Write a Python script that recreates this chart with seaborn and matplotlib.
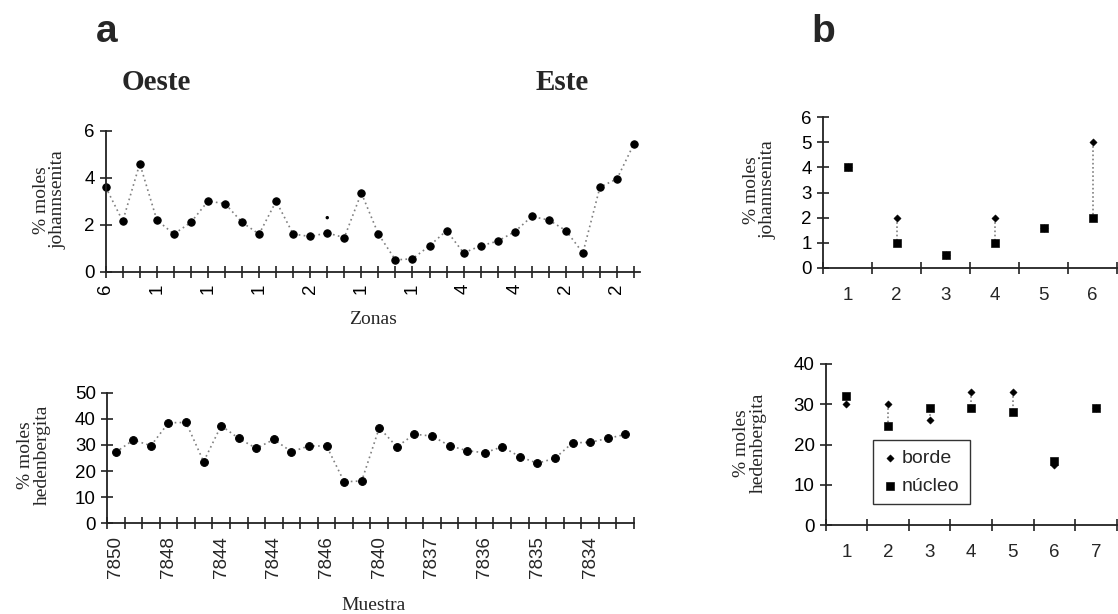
import matplotlib
matplotlib.use("Agg")
import matplotlib.pyplot as plt
import seaborn as sns
import pandas as pd
import numpy as np

# ---------------- data ----------------
# panel a, top: % moles johannsenita along the traverse (Oeste -> Este)
johannsenita_a = [3.6, 2.15, 4.6, 2.2, 1.6, 2.1, 3.0, 2.9, 2.1, 1.6,
                  3.0, 1.6, 1.5, 1.65, 1.45, 3.35, 1.6, 0.5, 0.55, 1.1,
                  1.75, 0.8, 1.1, 1.3, 1.7, 2.35, 2.2, 1.75, 0.8, 3.6,
                  3.95, 5.45]
zonas_labels = ["6", "1", "1", "1", "2", "1", "1", "4", "4", "2", "2"]
extra_index = [13]
extra_value = [2.3]

# panel a, bottom: % moles hedenbergita per sample
hedenbergita_a = [27.2, 31.9, 29.7, 38.5, 38.6, 23.6, 37.4, 32.5, 28.7, 32.1,
                  27.4, 29.6, 29.6, 15.9, 16.2, 36.6, 29.3, 34.1, 33.4, 29.7,
                  27.8, 27.0, 29.3, 25.5, 23.0, 24.9, 30.8, 31.0, 32.5, 34.0]
muestra_labels = ["7850", "7848", "7844", "7844", "7846", "7840",
                  "7837", "7836", "7835", "7834"]

# panel b, top: johannsenita borde / núcleo
b_top_cats = [1, 2, 3, 4, 5, 6]
b_top_borde = [4.0, 2.0, 0.5, 2.0, 1.6, 5.0]
b_top_nucleo = [4.0, 1.0, 0.5, 1.0, 1.6, 2.0]

# panel b, bottom: hedenbergita borde / núcleo
b_bot_cats = [1, 2, 3, 4, 5, 6, 7]
b_bot_borde = [30.0, 30.0, 26.0, 33.0, 33.0, 15.0, 29.0]
b_bot_nucleo = [32.0, 24.5, 29.0, 29.0, 28.0, 16.0, 29.0]

# ---------------- style ----------------
sns.set_theme(style="ticks")
plt.rcParams["font.family"] = ["Liberation Sans", "DejaVu Sans"]
SERIF = ["Liberation Serif", "DejaVu Serif"]
SPINE = "#222222"
DOT = "#808080"
TICKFS = 13.5

W, H = 1118, 614
fig = plt.figure(figsize=(W / 100, H / 100), dpi=100)


def px_axes(left, right, top, bottom):
    return fig.add_axes([left / W, 1 - bottom / H, (right - left) / W, (bottom - top) / H])


def style_axes(ax):
    sns.despine(ax=ax)
    for s in ("left", "bottom"):
        ax.spines[s].set_color(SPINE)
        ax.spines[s].set_linewidth(1.3)
    ax.tick_params(axis="both", which="major", direction="inout", length=9,
                   width=1.2, color=SPINE, labelsize=TICKFS, labelcolor="black")
    ax.set_facecolor("white")


# ---- panel a top ----
ax1 = px_axes(105.7, 640, 130.7, 271.7)
df1 = pd.DataFrame({"i": np.arange(len(johannsenita_a)), "v": johannsenita_a})
sns.lineplot(data=df1, x="i", y="v", ax=ax1, color=DOT, linestyle=(0, (1, 2)),
             linewidth=1.2, marker="o", markersize=5.3, markerfacecolor="black",
             markeredgecolor="black", clip_on=False)
sns.scatterplot(x=extra_index, y=extra_value, ax=ax1, color="black", s=6,
                edgecolor="none", clip_on=False)
ax1.set_xlim(0, 31.35)
ax1.set_ylim(0, 6)
ax1.set_yticks([0, 2, 4, 6])
ax1.set_xticks(range(len(johannsenita_a)))
lab = [""] * len(johannsenita_a)
for k, t in enumerate(zonas_labels):
    lab[3 * k] = t
ax1.set_xticklabels(lab, rotation=90, va="top")
ax1.set_xlabel("")
ax1.set_ylabel("")
style_axes(ax1)
ax1.tick_params(axis="x", pad=4)

# ---- panel a bottom ----
ax2 = px_axes(107, 634, 392.7, 523.3)
df2 = pd.DataFrame({"i": np.arange(len(hedenbergita_a)), "v": hedenbergita_a})
sns.lineplot(data=df2, x="i", y="v", ax=ax2, color=DOT, linestyle=(0, (1, 2)),
             linewidth=1.2, marker="o", markersize=5.6, markerfacecolor="black",
             markeredgecolor="black", clip_on=False)
ax2.set_xlim(-0.5, len(hedenbergita_a) - 0.5)
ax2.set_ylim(0, 50)
ax2.set_yticks([0, 10, 20, 30, 40, 50])
ax2.set_xticks(np.arange(-0.5, len(hedenbergita_a), 1.0))
ax2.set_xticklabels([])
ax2.set_xticks([3 * k for k in range(len(muestra_labels))], minor=True)
ax2.set_xticklabels(muestra_labels, minor=True, rotation=90, fontsize=TICKFS)
ax2.tick_params(axis="x", which="minor", length=0, pad=9)
ax2.set_xlabel("")
ax2.set_ylabel("")
style_axes(ax2)

# ---- panel b top ----
ax3 = px_axes(823, 1117, 117.3, 267.7)
for c, b, n in zip(b_top_cats, b_top_borde, b_top_nucleo):
    ax3.plot([c, c], [b, n], color=DOT, linestyle=(0, (1, 1.5)), linewidth=1.2)
sns.scatterplot(x=b_top_cats, y=b_top_nucleo, ax=ax3, marker="s", s=30,
                color="black", edgecolor="black", clip_on=False, zorder=3)
sns.scatterplot(x=b_top_cats, y=b_top_borde, ax=ax3, marker="D", s=14,
                color="black", edgecolor="black", clip_on=False, zorder=3)
ax3.set_xlim(0.5, 6.5)
ax3.set_ylim(0, 6)
ax3.set_yticks(range(0, 7))
ax3.set_xticks(np.arange(0.5, 6.6, 1.0))
ax3.set_xticklabels([])
ax3.set_xticks(b_top_cats, minor=True)
ax3.set_xticklabels([str(c) for c in b_top_cats], minor=True, fontsize=TICKFS)
ax3.tick_params(axis="x", which="minor", length=0, pad=14)
style_axes(ax3)

# ---- panel b bottom ----
ax4 = px_axes(825.7, 1116.7, 364, 525)
for c, b, n in zip(b_bot_cats, b_bot_borde, b_bot_nucleo):
    ax4.plot([c, c], [b, n], color=DOT, linestyle=(0, (1, 1.5)), linewidth=1.2)
sns.scatterplot(x=b_bot_cats, y=b_bot_borde, ax=ax4, marker="D", s=14,
                color="black", edgecolor="black", clip_on=False, zorder=3,
                label="borde")
sns.scatterplot(x=b_bot_cats, y=b_bot_nucleo, ax=ax4, marker="s", s=30,
                color="black", edgecolor="black", clip_on=False, zorder=3,
                label="núcleo")
ax4.set_xlim(0.5, 7.5)
ax4.set_ylim(0, 40)
ax4.set_yticks([0, 10, 20, 30, 40])
ax4.set_xticks(np.arange(0.5, 7.6, 1.0))
ax4.set_xticklabels([])
ax4.set_xticks(b_bot_cats, minor=True)
ax4.set_xticklabels([str(c) for c in b_bot_cats], minor=True, fontsize=TICKFS)
ax4.tick_params(axis="x", which="minor", length=0, pad=14)
style_axes(ax4)
leg = ax4.legend(loc="upper left", bbox_to_anchor=(0.1625, 0.528), borderaxespad=0,
                 frameon=True, fancybox=False, fontsize=14, handletextpad=0.2,
                 handlelength=0.8, borderpad=0.5, labelspacing=0.5)
leg.get_frame().set_edgecolor("black")
leg.get_frame().set_linewidth(1.0)

# ---------------- texts ----------------
fig.text(107 / W, 1 - 32 / H, "a", fontsize=28, fontweight="bold", ha="center", va="center")
fig.text(823 / W, 1 - 32 / H, "b", fontsize=28, fontweight="bold", ha="center", va="center")
fig.text(156 / W, 1 - 82 / H, "Oeste", family=SERIF, fontsize=21, fontweight="bold",
         ha="center", va="center")
fig.text(562 / W, 1 - 82 / H, "Este", family=SERIF, fontsize=21, fontweight="bold",
         ha="center", va="center")
fig.text(50 / W, 1 - 200 / H, "% moles\njohannsenita", family=SERIF, fontsize=14,
         rotation=90, ha="center", va="center", multialignment="center", linespacing=0.95)
fig.text(34 / W, 1 - 455 / H, "% moles\nhedenbergita", family=SERIF, fontsize=14,
         rotation=90, ha="center", va="center", multialignment="center", linespacing=0.95)
fig.text(760 / W, 1 - 190 / H, "% moles\njohannsenita", family=SERIF, fontsize=14,
         rotation=90, ha="center", va="center", multialignment="center", linespacing=0.95)
fig.text(750 / W, 1 - 443 / H, "% moles\nhedenbergita", family=SERIF, fontsize=14,
         rotation=90, ha="center", va="center", multialignment="center", linespacing=0.95)
fig.text(373 / W, 1 - 319 / H, "Zonas", family=SERIF, fontsize=14, ha="center", va="center")
fig.text(374 / W, 1 - 605 / H, "Muestra", family=SERIF, fontsize=14, ha="center", va="center")

fig.savefig("out.png", dpi=100)
